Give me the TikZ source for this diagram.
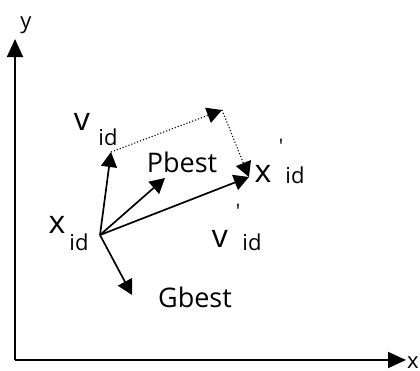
\documentclass[tikz,border=0pt]{standalone}
\usepackage{fontspec}
\setmainfont{Open Sans}
\usetikzlibrary{arrows.meta}
\tikzset{
  vec/.style={line width=1.7pt,-{Triangle[length=15pt,width=16pt]}},
  dotvec/.style={line width=1.1pt,dotted,-{Triangle[length=15pt,width=16pt]}},
  axis/.style={line width=1.8pt,-{Triangle[length=18pt,width=16pt]}},
  big/.style={inner sep=0pt,anchor=base,font=\fontsize{32}{34}\selectfont},
  word/.style={inner sep=0pt,anchor=base,font=\fontsize{27}{29}\selectfont},
  sub/.style={inner sep=0pt,anchor=base,font=\fontsize{22}{24}\selectfont},
  prim/.style={inner sep=0pt,anchor=north,font=\fontsize{20}{22}\selectfont},
  axlab/.style={inner sep=0pt,anchor=base,font=\fontsize{22}{24}\selectfont}
}
\begin{document}
\begin{tikzpicture}[x=1pt,y=-1pt]
\useasboundingbox (0,0) rectangle (420,370);
% axes
\coordinate (O) at (15,360);
\coordinate (Ytip) at (15,39);
\coordinate (Xtip) at (406,360);
\draw[axis] (O) -- (Ytip);
\draw[axis] (O) -- (Xtip);
\node[axlab] (ylab) at (26,28) {y};
\node[axlab,anchor=base west] (xlab) at (407,368) {x};
% vectors
\coordinate (X) at (100,235);
\coordinate (V) at (111,152);
\coordinate (P) at (165,178);
\coordinate (Xn) at (249,177);
\coordinate (G) at (132,295);
\coordinate (C) at (222,110);
\draw[vec] (X) -- (V);
\draw[vec] (X) -- (P);
\draw[vec] (X) -- (Xn);
\draw[vec] (X) -- (G);
\draw[dotvec] (V) -- (C);
\draw[dotvec] (C) -- (Xn);
% labels
\node[big] (vl) at (82,130) {v};
\node[sub] (vls) at (108,145) {id};
\node[word] (pb) at (182,172) {Pbest};
\node[big] (xn) at (263,182) {x};
\node[prim] (xnp) at (281,139) {\textquotesingle};
\node[sub] (xns) at (295,183) {id};
\node[big] (vn) at (220,247) {v};
\node[prim] (vnp) at (238,204) {\textquotesingle};
\node[sub] (vns) at (252,250) {id};
\node[big] (xl) at (57,233) {x};
\node[sub] (xls) at (79,250) {id};
\node[word] (gb) at (195,307) {Gbest};
\end{tikzpicture}
\end{document}
